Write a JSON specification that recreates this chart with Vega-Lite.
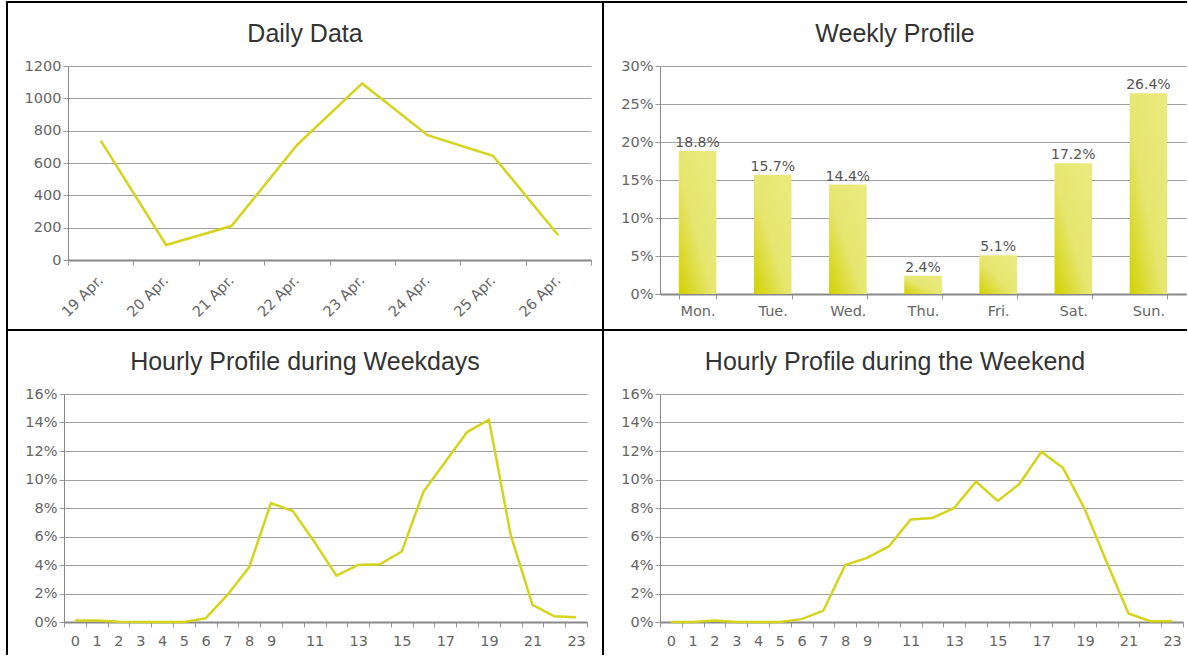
{
  "$schema": "https://vega.github.io/schema/vega-lite/v6.json",
  "padding": {"left": 0, "top": 1, "right": 0, "bottom": 0},
  "background": "white",
  "bounds": "flush",
  "spacing": 0,
  "columns": 2,
  "datasets": {
    "daily": [
      {"day": "19 Apr.", "value": 738},
      {"day": "20 Apr.", "value": 93},
      {"day": "21 Apr.", "value": 210},
      {"day": "22 Apr.", "value": 710},
      {"day": "23 Apr.", "value": 1092},
      {"day": "24 Apr.", "value": 772},
      {"day": "25 Apr.", "value": 645},
      {"day": "26 Apr.", "value": 153}
    ],
    "weekly": [
      {"day": "Mon.", "share": 0.188},
      {"day": "Tue.", "share": 0.157},
      {"day": "Wed.", "share": 0.144},
      {"day": "Thu.", "share": 0.024},
      {"day": "Fri.", "share": 0.051},
      {"day": "Sat.", "share": 0.172},
      {"day": "Sun.", "share": 0.264}
    ],
    "weekday": [
      {"hour": 0, "share": 0.001},
      {"hour": 1, "share": 0.001},
      {"hour": 2, "share": 0.0002},
      {"hour": 3, "share": 0},
      {"hour": 4, "share": 0},
      {"hour": 5, "share": 0},
      {"hour": 6, "share": 0.0025},
      {"hour": 7, "share": 0.019},
      {"hour": 8, "share": 0.0385},
      {"hour": 9, "share": 0.0835},
      {"hour": 10, "share": 0.0778},
      {"hour": 11, "share": 0.056},
      {"hour": 12, "share": 0.0325},
      {"hour": 13, "share": 0.04},
      {"hour": 14, "share": 0.0405},
      {"hour": 15, "share": 0.0495},
      {"hour": 16, "share": 0.0915},
      {"hour": 17, "share": 0.1125},
      {"hour": 18, "share": 0.1333},
      {"hour": 19, "share": 0.142},
      {"hour": 20, "share": 0.061},
      {"hour": 21, "share": 0.012},
      {"hour": 22, "share": 0.004},
      {"hour": 23, "share": 0.0033}
    ],
    "weekend": [
      {"hour": 0, "share": 0},
      {"hour": 1, "share": 0},
      {"hour": 2, "share": 0.001},
      {"hour": 3, "share": 0},
      {"hour": 4, "share": 0},
      {"hour": 5, "share": 0},
      {"hour": 6, "share": 0.002},
      {"hour": 7, "share": 0.008},
      {"hour": 8, "share": 0.04},
      {"hour": 9, "share": 0.045},
      {"hour": 10, "share": 0.053},
      {"hour": 11, "share": 0.072},
      {"hour": 12, "share": 0.073},
      {"hour": 13, "share": 0.08},
      {"hour": 14, "share": 0.0985},
      {"hour": 15, "share": 0.085},
      {"hour": 16, "share": 0.097},
      {"hour": 17, "share": 0.1195},
      {"hour": 18, "share": 0.108},
      {"hour": 19, "share": 0.079},
      {"hour": 20, "share": 0.042},
      {"hour": 21, "share": 0.006},
      {"hour": 22, "share": 0.0005},
      {"hour": 23, "share": 0.0005}
    ]
  },
  "concat": [
    {
      "width": 596,
      "height": 328,
      "view": {"stroke": "#000", "strokeWidth": 2},
      "title": {"text": "Daily Data"},
      "data": {"name": "daily"},
      "mark": {"type": "line", "color": "#d4d41c", "strokeWidth": 2.5},
      "encoding": {
        "x": {
          "field": "day", "type": "nominal", "sort": null, "bandPosition": 0.5,
          "scale": {"type": "band", "range": [61, 584], "paddingInner": 0, "paddingOuter": 0},
          "axis": {"title": null, "offset": -70, "tickBand": "extent", "labelAngle": -45, "labelAlign": "right", "labelBaseline": "middle", "labelPadding": 13, "grid": false}
        },
        "y": {
          "field": "value", "type": "quantitative",
          "scale": {"domain": [0, 1200], "range": [258, 64], "nice": false},
          "axis": {"title": null, "offset": -61, "values": [0, 200, 400, 600, 800, 1000, 1200], "format": "d", "grid": true, "domainWidth": 1, "labelPadding": 2}
        }
      }
    },
    {
      "width": 584,
      "height": 328,
      "view": {"stroke": "#000", "strokeWidth": 2, "strokeDash": [584, 5000]},
      "title": {"text": "Weekly Profile"},
      "data": {"name": "weekly"},
      "encoding": {
        "x": {
          "field": "day", "type": "nominal", "sort": null,
          "scale": {"type": "band", "range": [57, 583], "paddingInner": 0.5, "paddingOuter": 0.25},
          "axis": {"title": null, "offset": -36, "tickBand": "extent", "labelAngle": 0, "labelPadding": 5, "grid": false}
        },
        "y": {
          "field": "share", "type": "quantitative",
          "scale": {"domain": [0, 0.3], "range": [292, 64], "nice": false},
          "axis": {"title": null, "offset": -57, "values": [0, 0.05, 0.1, 0.15, 0.2, 0.25, 0.3], "format": ".0%", "grid": true, "domainWidth": 1, "labelPadding": 2}
        }
      },
      "layer": [
        {
          "mark": {
            "type": "bar",
            "color": {
              "gradient": "linear", "x1": 0, "y1": 1, "x2": 1, "y2": 0,
              "stops": [
                {"offset": 0, "color": "#d2d000"},
                {"offset": 0.45, "color": "#e6e670"},
                {"offset": 1, "color": "#eaea80"}
              ]
            }
          }
        },
        {
          "mark": {"type": "text", "dy": -8, "font": "DejaVu Sans", "fontSize": 14, "color": "#555"},
          "encoding": {"text": {"field": "share", "type": "quantitative", "format": ".1%"}}
        }
      ]
    },
    {
      "width": 596,
      "height": 325,
      "view": {"stroke": "#000", "strokeWidth": 2, "strokeDash": [921, 596, 400]},
      "title": {"text": "Hourly Profile during Weekdays"},
      "data": {"name": "weekday"},
      "mark": {"type": "line", "color": "#d4d41c", "strokeWidth": 2.5},
      "encoding": {
        "x": {
          "field": "hour", "type": "ordinal", "bandPosition": 0.5,
          "scale": {"type": "band", "range": [57, 580], "paddingInner": 0, "paddingOuter": 0},
          "axis": {"title": null, "offset": -33, "tickBand": "extent", "labelAngle": 0, "labelPadding": 7, "grid": false, "labelOverlap": false, "labelExpr": "datum.value <= 9 || datum.value % 2 == 1 ? datum.label : ''"}
        },
        "y": {
          "field": "share", "type": "quantitative",
          "scale": {"domain": [0, 0.16], "range": [292, 64], "nice": false},
          "axis": {"title": null, "offset": -57, "values": [0, 0.02, 0.04, 0.06, 0.08, 0.1, 0.12, 0.14, 0.16], "format": ".0%", "grid": true, "domainWidth": 1, "labelPadding": 2}
        }
      }
    },
    {
      "width": 584,
      "height": 325,
      "view": {"stroke": "#000", "strokeWidth": 2, "strokeDash": [584, 5000]},
      "title": {"text": "Hourly Profile during the Weekend"},
      "data": {"name": "weekend"},
      "mark": {"type": "line", "color": "#d4d41c", "strokeWidth": 2.5},
      "encoding": {
        "x": {
          "field": "hour", "type": "ordinal", "bandPosition": 0.5,
          "scale": {"type": "band", "range": [57, 580], "paddingInner": 0, "paddingOuter": 0},
          "axis": {"title": null, "offset": -33, "tickBand": "extent", "labelAngle": 0, "labelPadding": 7, "grid": false, "labelOverlap": false, "labelExpr": "datum.value <= 9 || datum.value % 2 == 1 ? datum.label : ''"}
        },
        "y": {
          "field": "share", "type": "quantitative",
          "scale": {"domain": [0, 0.16], "range": [292, 64], "nice": false},
          "axis": {"title": null, "offset": -57, "values": [0, 0.02, 0.04, 0.06, 0.08, 0.1, 0.12, 0.14, 0.16], "format": ".0%", "grid": true, "domainWidth": 1, "labelPadding": 2}
        }
      }
    }
  ],
  "config": {
    "view": {"stroke": null},
    "axis": {
      "labelFont": "DejaVu Sans",
      "labelFontSize": 14.5,
      "labelColor": "#666",
      "domainColor": "#888",
      "domainWidth": 2,
      "tickColor": "#999",
      "tickSize": 5,
      "gridColor": "#a0a0a0",
      "gridWidth": 1
    },
    "title": {
      "font": "Liberation Sans",
      "fontSize": 25,
      "fontWeight": "normal",
      "color": "#333",
      "anchor": "middle",
      "frame": "group",
      "offset": -45,
      "baseline": "alphabetic"
    }
  }
}
